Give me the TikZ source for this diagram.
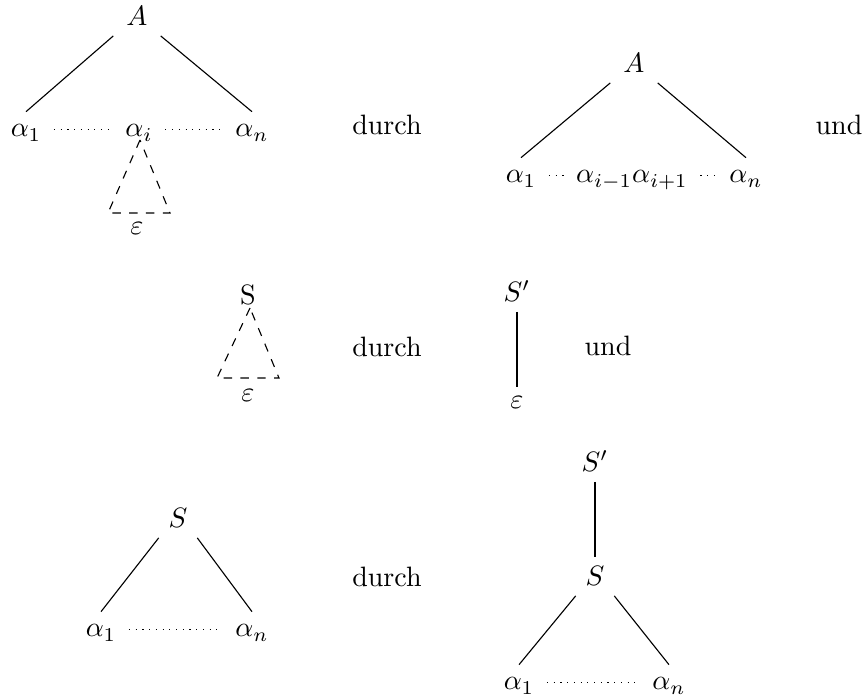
\documentclass[tikz,border=0pt]{standalone}
\usetikzlibrary{calc}
\tikzset{
  root/.style={anchor=base, inner xsep=4.5pt},
  leaf/.style={anchor=base, text height=5.5pt, text depth=0pt},
  word/.style={anchor=base},
  gap/.style={dotted, shorten <=1pt, shorten >=1pt},
  subtree/.style={dashed},
}
\begin{document}
\begin{tikzpicture}[x=0.01255cm, y=-0.01255cm]
\useasboundingbox (0,0) rectangle (866,699);
% first rule, left tree
\node[root] (A1) at (137,26) {$A$};
\node[leaf] (a1) at (26,137) {$\alpha_1$};
\node[leaf] (ai) at (139,137) {$\alpha_i$};
\node[leaf] (an) at (252,137) {$\alpha_n$};
\draw (A1.south west) -- (a1.north);
\draw (A1.south east) -- (an.north);
\draw[gap] (a1) -- (ai);
\draw[gap] (ai) -- (an);
\coordinate (t1l) at (108,213);
\coordinate (t1r) at (170,213);
\draw[subtree] ($(ai.base)+(1,3)$) -- (t1l) -- (t1r) -- cycle;
\node[word] (e1) at (137,235) {$\varepsilon$};
\node[word] (d1) at (387,135) {durch};
% first rule, right tree
\node[root] (A2) at (634,73) {$A$};
\node[leaf] (b1) at (521,183) {$\alpha_1$};
\node[leaf] (bm) at (632,183) {$\alpha_{i-1}\alpha_{i+1}$};
\node[leaf] (bn) at (746,183) {$\alpha_n$};
\draw (A2.south west) -- (b1.north);
\draw (A2.south east) -- (bn.north);
\draw[gap] (b1) -- (bm);
\draw[gap] (bm) -- (bn);
\node[word] (u1) at (839,135) {und};
% second rule
\node[word] (S2) at (248,305) {S};
\coordinate (t2l) at (217,378);
\coordinate (t2r) at (279,378);
\draw[subtree] ($(S2.base)+(2,3)$) -- (t2l) -- (t2r) -- cycle;
\node[word] (e2) at (248,402) {$\varepsilon$};
\node[word] (d2) at (387,357) {durch};
\node[word] (P2) at (517,302) {$S'$};
\node[word] (f2) at (517,409) {$\varepsilon$};
\draw (P2) -- (f2);
\node[word] (u2) at (608,356) {und};
% third rule
\node[word] (S3) at (178,528) {$S$};
\node[leaf] (c1) at (101,637) {$\alpha_1$};
\node[leaf] (cn) at (252,637) {$\alpha_n$};
\draw (S3.south west) -- (c1.north);
\draw (S3.south east) -- (cn.north);
\draw[gap] (c1) -- (cn);
\node[word] (d3) at (387,587) {durch};
\node[word] (P3) at (595,472) {$S'$};
\node[word] (S4) at (595,586) {$S$};
\draw (P3) -- (S4);
\node[leaf] (g1) at (519,690) {$\alpha_1$};
\node[leaf] (gn) at (669,690) {$\alpha_n$};
\draw (S4.south west) -- (g1.north);
\draw (S4.south east) -- (gn.north);
\draw[gap] (g1) -- (gn);
\end{tikzpicture}
\end{document}
